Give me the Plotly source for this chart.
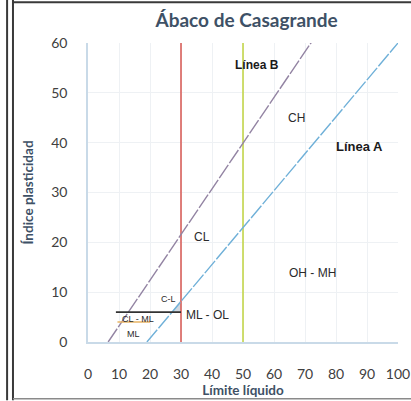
import plotly.graph_objects as go

# Plasticity chart (Casagrande): liquid limit vs plasticity index
x_ticks = [0, 10, 20, 30, 40, 50, 60, 70, 80, 90, 100]
y_ticks = [0, 10, 20, 30, 40, 50, 60]

# Línea A and Línea B (U-line), end points
linea_a_ll = [19, 100]
linea_a_ip = [0, 60]
linea_b_ll = [6.5, 73]
linea_b_ip = [0, 61]

# Vertical limits at LL = 30 and LL = 50
lim_30_ll = [30, 30]
lim_50_ll = [50, 50]
lim_ip = [0, 60]

# CL-ML band boundaries
cl_ml_top_ll = [9, 30]
cl_ml_top_ip = [6, 6]
cl_ml_low_ll = [9.5, 20]
cl_ml_low_ip = [4, 4]

# Small shaded wedge between Línea A and LL = 30
wedge_ll = [27, 30, 30, 27]
wedge_ip = [6, 6, 8.5, 6]

# Zone labels
zone_text = ["Línea B", "CH", "Línea A", "CL", "OH - MH", "ML - OL", "CL - ML", "ML", "C-L"]
zone_ll = [54.5, 67.4, 87.7, 36.8, 72.3, 38.4, 16.1, 14.8, 26]
zone_ip = [55.6, 45, 39.2, 21.1, 13.9, 5.4, 4.6, 1.6, 8.6]
zone_bold = [True, False, True, False, False, False, False, False, False]
zone_size = [12, 12, 13, 12, 12, 12, 9, 9, 9]

fig = go.Figure()

fig.add_trace(go.Scatter(x=wedge_ll, y=wedge_ip, fill="toself", mode="lines",
                         line=dict(width=0), fillcolor="rgba(170,185,200,0.55)",
                         hoverinfo="skip", showlegend=False))
fig.add_trace(go.Scatter(x=lim_30_ll, y=lim_ip, mode="lines",
                         line=dict(color="#d9605a", width=1.6), showlegend=False))
fig.add_trace(go.Scatter(x=lim_50_ll, y=lim_ip, mode="lines",
                         line=dict(color="#c3d64a", width=1.6), showlegend=False))
fig.add_trace(go.Scatter(x=linea_b_ll, y=linea_b_ip, mode="lines",
                         line=dict(color="#9384a3", width=1.4, dash="16px,2px"), showlegend=False))
fig.add_trace(go.Scatter(x=linea_a_ll, y=linea_a_ip, mode="lines",
                         line=dict(color="#6fb0d8", width=1.4, dash="16px,2px"), showlegend=False))
fig.add_trace(go.Scatter(x=cl_ml_top_ll, y=cl_ml_top_ip, mode="lines",
                         line=dict(color="#333333", width=1.6), showlegend=False))
fig.add_trace(go.Scatter(x=cl_ml_low_ll, y=cl_ml_low_ip, mode="lines",
                         line=dict(color="#e8b464", width=1.6), showlegend=False))

for t, lx, ly, b, s in zip(zone_text, zone_ll, zone_ip, zone_bold, zone_size):
    fig.add_annotation(x=lx, y=ly, text=f"<b>{t}</b>" if b else t, showarrow=False,
                       font=dict(family="Liberation Sans, Arial", size=s,
                                 color="#1a1a1a" if b else "#2a2a2a"))

# Outer frame lines
frame = dict(color="#3a3a3a", width=2)
for px in (-0.261, -0.242):
    fig.add_shape(type="line", xref="paper", yref="paper", x0=px, x1=px,
                  y0=-0.195, y1=1.145, line=frame)
fig.add_shape(type="line", xref="paper", yref="paper", x0=-0.242, x1=1.05,
              y0=1.136, y1=1.136, line=frame)
fig.add_shape(type="line", xref="paper", yref="paper", x0=-0.242, x1=1.05,
              y0=-0.19, y1=-0.19, line=dict(color="#8a8a8a", width=1.5))

fig.update_layout(
    width=411, height=401,
    margin=dict(l=88, r=13, t=43, b=59, autoexpand=False),
    paper_bgcolor="white", plot_bgcolor="white",
    title=dict(text="<b>Ábaco de Casagrande</b>", x=0.6, xanchor="center",
               y=0.95, yanchor="middle",
               font=dict(family="Lato, Open Sans", size=19, color="#3e5166")),
    font=dict(family="Lato, Open Sans", color="#404040"),
)
fig.update_xaxes(range=[0, 100], tickvals=x_ticks, ticktext=[str(v) for v in x_ticks],
                 automargin=False,
                 showgrid=True, gridcolor="#eef1f4", gridwidth=1,
                 showline=True, linecolor="#c9dae8", linewidth=1.5,
                 ticks="outside", ticklen=18, tickcolor="rgba(0,0,0,0)",
                 tickfont=dict(size=14, color="#404040"), zeroline=False,
                 mirror=False,
                 title=dict(text="<b>Límite líquido</b>", standoff=4,
                            font=dict(size=13.5, color="#3e5166")))
fig.update_yaxes(range=[0, 60], tickvals=y_ticks, ticktext=[str(v) for v in y_ticks],
                 automargin=False,
                 showgrid=True, gridcolor="#eef1f4", gridwidth=1,
                 showline=True, linecolor="#c9dae8", linewidth=1.5,
                 ticks="outside", ticklen=16, tickcolor="rgba(0,0,0,0)",
                 tickfont=dict(size=14, color="#404040"), zeroline=False,
                 title=dict(text="<b>Índice plasticidad</b>", standoff=14,
                            font=dict(size=13.5, color="#3e5166")))

fig.write_html("out.html")
